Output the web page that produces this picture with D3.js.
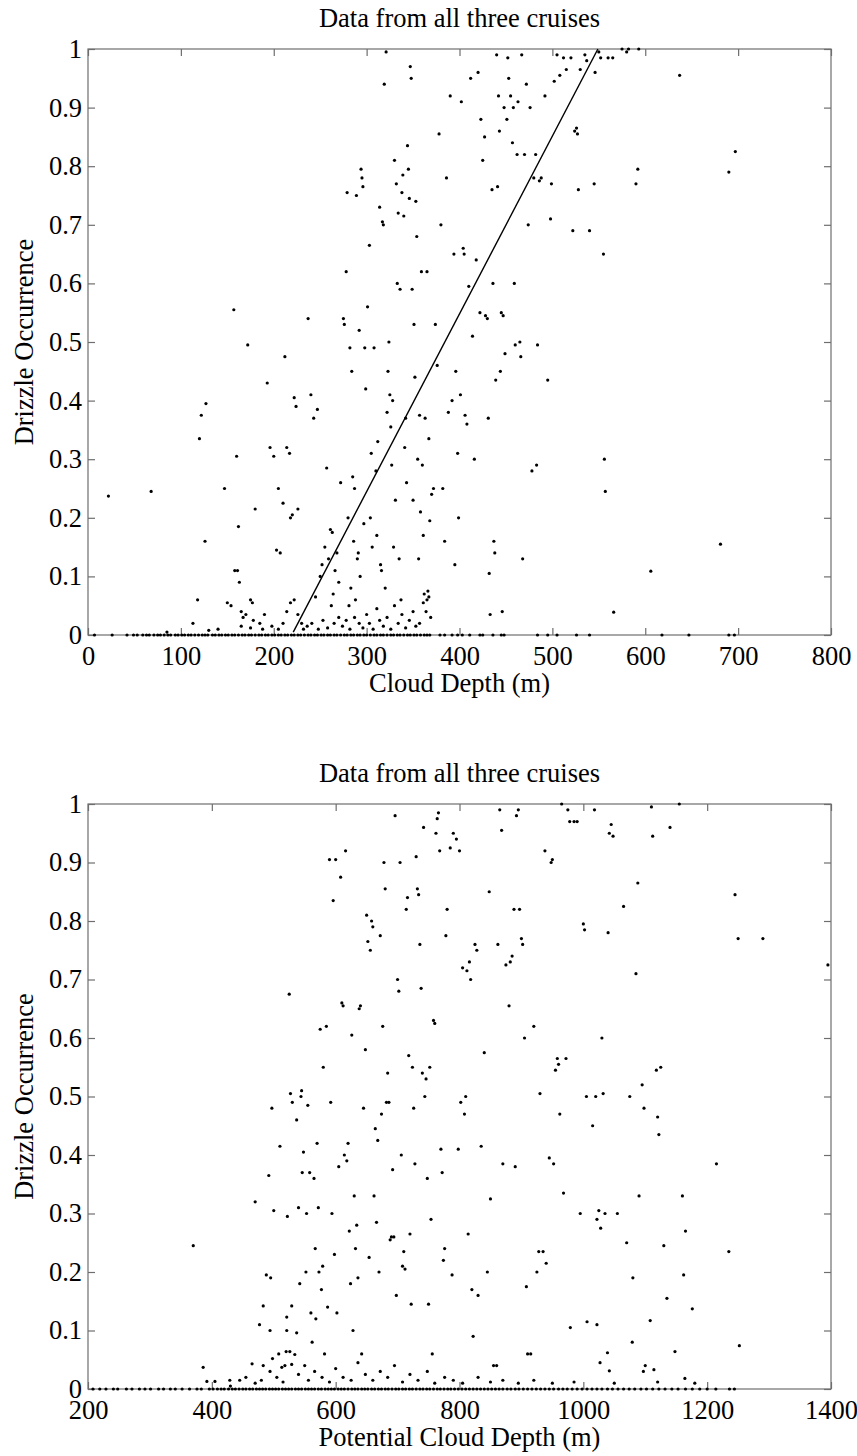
<!DOCTYPE html>
<html>
<head>
<meta charset="utf-8">
<script src="https://cdn.jsdelivr.net/npm/d3@7"></script>
<style>
  body { margin: 0; background: white; }
  svg text { font-family: "Liberation Serif", serif; font-size: 26.5px; fill: black; }
</style>
</head>
<body>
<svg id="chart" width="857" height="1456"></svg>
<script>

// ---- data: top panel (cloud depth vs drizzle occurrence) ----
var topPoints = [
  [22,0.237],[68,0.245],[113,0.02],[118,0.06],[120,0.335],[122,0.375],[127,0.395],[126,0.16],
  [147,0.25],[150,0.055],[154,0.05],[157,0.555],[160,0.305],[158,0.11],[161,0.11],[163,0.09],
  [162,0.185],[165,0.04],[167,0.03],[170,0.035],[172,0.495],[175,0.06],[177,0.055],[180,0.215],
  [178,0.025],[185,0.02],[190,0.035],[193,0.43],[196,0.32],
  [200,0.305],[203,0.145],[205,0.25],[207,0.14],[210,0.225],[212,0.475],[214,0.32],[217,0.31],
  [218,0.2],[220,0.205],[222,0.405],[224,0.39],[226,0.215],[214,0.04],[218,0.055],[222,0.06],
  [226,0.035],[230,0.02],[237,0.54],[240,0.41],[243,0.37],[247,0.385],[245,0.065],[250,0.1],
  [252,0.12],[255,0.15],[257,0.285],[259,0.13],[261,0.18],[263,0.175],[262,0.05],[264,0.07],
  [266,0.11],[268,0.14],[270,0.09],[272,0.26],[275,0.54],[276,0.53],[278,0.62],[279,0.755],
  [280,0.2],[282,0.49],[284,0.45],[285,0.27],[286,0.16],[287,0.25],[288,0.06],[289,0.75],
  [290,0.13],[292,0.52],[293,0.1],[294,0.795],[295,0.78],[296,0.765],[297,0.19],[298,0.49],
  [299,0.42],[291,0.14],[283,0.08],[281,0.05],
  [301,0.56],[303,0.665],[304,0.2],[305,0.31],[306,0.15],[308,0.49],[310,0.28],[311,0.17],
  [312,0.33],[314,0.73],[315,0.12],[316,0.11],[317,0.705],[318,0.7],[319,0.94],[320,0.08],
  [321,0.995],[322,0.38],[323,0.45],[324,0.5],[325,0.41],[326,0.355],[327,0.29],[328,0.4],
  [329,0.15],[330,0.81],[331,0.23],[332,0.77],[333,0.6],[334,0.72],[335,0.13],[336,0.59],
  [337,0.06],[338,0.755],[339,0.785],[340,0.715],[341,0.32],[342,0.37],[343,0.26],[344,0.835],
  [345,0.795],[346,0.745],[347,0.97],[348,0.95],[349,0.59],[350,0.23],[351,0.53],[352,0.44],
  [353,0.74],[354,0.68],[355,0.3],[356,0.13],[357,0.375],[358,0.21],[359,0.62],[360,0.29],
  [361,0.17],[362,0.07],[363,0.37],[364,0.04],[365,0.62],[366,0.075],[367,0.335],[368,0.195],
  [370,0.24],[372,0.25],[374,0.53],[376,0.46],[378,0.855],[380,0.7],[382,0.25],[384,0.16],
  [386,0.78],[388,0.38],[390,0.92],[392,0.4],[394,0.65],[395,0.12],[396,0.45],[398,0.31],[399,0.2],
  [401,0.41],[402,0.91],[404,0.66],[405,0.65],[406,0.375],[408,0.36],[410,0.595],[412,0.95],
  [414,0.51],[416,0.3],[418,0.64],[420,0.96],[422,0.55],[423,0.88],[425,0.81],[427,0.85],
  [428,0.545],[430,0.54],[431,0.37],[432,0.105],[433,0.035],[435,0.76],[436,0.6],[437,0.16],
  [438,0.14],[439,0.435],[440,0.99],[441,0.765],[442,0.92],[443,0.86],[444,0.45],[445,0.55],
  [446,0.04],[447,0.545],[448,0.9],[449,0.48],[451,0.88],[452,0.985],[453,0.95],[455,0.92],
  [457,0.84],[458,0.9],[459,0.6],[460,0.495],[462,0.82],[463,0.91],[465,0.5],[466,0.475],
  [467,0.99],[468,0.13],[470,0.82],[472,0.94],[474,0.7],[476,0.9],[478,0.28],[480,0.78],
  [482,0.82],[483,0.29],[484,0.495],[486,0.775],[488,0.78],[492,0.92],[495,0.435],[498,0.71],[499,0.77],
  [502,0.945],[505,0.99],[508,0.955],[512,0.985],[515,0.965],[520,0.985],[522,0.69],[524,0.86],
  [526,0.865],[527,0.855],[528,0.76],[530,0.965],[535,0.99],[537,0.98],[540,0.69],[545,0.77],
  [546,0.96],[550,0.995],[552,0.985],[555,0.65],[556,0.3],[557,0.245],[560,0.985],[565,0.985],
  [566,0.039],[575,1.0],[580,0.995],[582,1.0],[590,0.77],[592,0.795],[593,1.0],
  [606,0.109],[637,0.955],[681,0.155],[690,0.79],[697,0.825],
  // low values just above the zero line
  [85,0.005],[130,0.008],[140,0.01],[165,0.015],[175,0.012],[188,0.01],[198,0.015],[205,0.01],
  [210,0.02],[232,0.01],[236,0.015],[241,0.02],[248,0.01],[253,0.025],[258,0.012],[265,0.02],
  [270,0.03],[274,0.015],[278,0.025],[282,0.01],[287,0.03],[292,0.02],[296,0.012],[300,0.035],
  [303,0.02],[307,0.01],[311,0.045],[314,0.025],[318,0.015],[322,0.03],[326,0.01],[330,0.05],
  [334,0.02],[338,0.035],[342,0.012],[346,0.025],[350,0.04],[353,0.015],[357,0.02],[361,0.055],
  [365,0.06],[367,0.065],[369,0.03]
];
// points lying on the zero line
var topZeroX = [7,26,42,49,53,59,63,66,71,75,78,82,86,89,94,97,101,104,108,111,115,119,123,126,
  129,134,137,141,144,148,151,155,158,162,166,169,173,176,180,184,187,191,194,198,201,205,208,
  212,215,219,222,226,229,233,237,240,244,247,251,254,258,261,265,268,272,276,279,283,286,290,
  293,297,300,304,308,311,315,318,322,326,329,333,336,340,344,347,351,354,358,362,365,368,
  379,384,392,398,403,411,422,425,436,445,448,484,495,505,526,540,618,647,690,696];

// ---- data: bottom panel (potential cloud depth vs drizzle occurrence) ----
var botPoints = [
  [370,0.245],[386,0.037],[392,0.013],[405,0.013],[429,0.015],[445,0.015],[465,0.043],
  [470,0.32],[477,0.11],[483,0.142],[483,0.04],[488,0.195],[492,0.365],[494,0.1],[494,0.03],
  [495,0.19],[497,0.48],[498,0.052],[500,0.305],[508,0.06],[510,0.415],[513,0.037],[518,0.04],
  [520,0.064],[521,0.123],[521,0.1],[522,0.295],[525,0.675],[526,0.064],[527,0.505],[529,0.142],
  [529,0.042],[530,0.49],[534,0.059],[537,0.096],[537,0.46],[540,0.31],[542,0.18],[544,0.5],
  [545,0.51],[546,0.37],[548,0.405],[550,0.04],[552,0.2],[553,0.3],[555,0.485],[558,0.37],
  [560,0.13],[562,0.08],[565,0.36],[567,0.24],[568,0.12],[570,0.42],[572,0.31],[573,0.2],
  [575,0.615],[577,0.17],[579,0.21],[580,0.55],[582,0.06],[585,0.62],[587,0.14],[590,0.905],
  [592,0.49],[594,0.3],[596,0.835],[598,0.23],[600,0.905],[602,0.13],[605,0.38],[608,0.875],
  [610,0.66],[612,0.655],[614,0.4],[616,0.92],[618,0.39],[620,0.42],[622,0.27],[624,0.18],
  [626,0.605],[628,0.1],[630,0.33],[632,0.24],[634,0.28],[636,0.19],[638,0.65],[640,0.655],
  [642,0.06],[645,0.48],[648,0.58],[650,0.81],[652,0.765],[654,0.225],[656,0.75],[658,0.8],
  [660,0.79],[662,0.33],[664,0.445],[666,0.285],[668,0.425],[670,0.2],[672,0.775],[674,0.47],
  [676,0.62],[678,0.9],[680,0.855],[682,0.49],[684,0.54],[686,0.49],[688,0.255],[690,0.26],
  [692,0.375],[694,0.26],[696,0.98],[698,0.16],[700,0.7],[702,0.68],[704,0.9],[706,0.4],
  [708,0.21],[710,0.235],[712,0.205],[714,0.82],[716,0.84],[718,0.57],[720,0.265],[722,0.145],
  [724,0.55],[726,0.48],[728,0.385],[730,0.91],[732,0.855],[734,0.845],[736,0.76],[738,0.685],
  [740,0.54],[742,0.96],[744,0.5],[746,0.53],[748,0.36],[750,0.145],[752,0.55],[754,0.29],
  [756,0.06],[758,0.63],[760,0.625],[762,0.95],[764,0.975],[766,0.985],[768,0.92],[770,0.41],
  [772,0.37],[774,0.22],[776,0.24],[778,0.775],[780,0.82],[785,0.925],[788,0.195],[790,0.95],
  [795,0.94],[798,0.41],[800,0.92],[802,0.49],[805,0.72],[808,0.47],[810,0.5],[812,0.715],
  [814,0.265],[816,0.73],[818,0.7],[820,0.17],[822,0.09],[825,0.76],[828,0.75],[830,0.16],
  [835,0.415],[840,0.575],[845,0.2],[848,0.85],[850,0.325],[855,0.04],[860,0.04],[862,0.76],
  [865,0.99],[868,0.955],[870,0.385],[875,0.725],[880,0.655],[882,0.73],[885,0.74],[888,0.82],
  [890,0.38],[892,0.98],[895,0.99],[897,0.82],[900,0.77],[902,0.76],[905,0.6],[908,0.175],
  [910,0.06],[915,0.06],[920,0.62],[925,0.2],[928,0.235],[930,0.505],[935,0.235],[938,0.92],
  [940,0.215],[945,0.395],[948,0.9],[950,0.905],[952,0.385],[955,0.545],[958,0.565],[960,0.555],
  [962,0.47],[965,1.0],[968,0.335],[972,0.565],[975,0.99],[978,0.97],[979,0.105],[985,0.97],
  [990,0.97],[995,0.3],[1000,0.795],[1002,0.785],[1005,0.5],[1006,0.115],[1015,0.45],[1018,0.99],
  [1020,0.5],[1022,0.29],[1022,0.11],[1025,0.305],[1027,0.045],[1028,0.275],[1030,0.6],[1032,0.505],
  [1035,0.3],[1039,0.062],[1040,0.78],[1042,0.031],[1042,0.95],[1045,0.965],[1048,0.945],
  [1055,0.3],[1065,0.825],[1070,0.25],[1075,0.5],[1079,0.08],[1080,0.19],[1085,0.71],[1088,0.865],
  [1090,0.33],[1095,0.52],[1097,0.03],[1098,0.48],[1100,0.04],[1108,0.117],[1110,0.995],
  [1112,0.945],[1114,0.033],[1118,0.545],[1120,0.465],[1122,0.435],[1125,0.55],[1130,0.245],
  [1135,0.155],[1140,0.96],[1148,0.064],[1155,1.0],[1160,0.33],[1162,0.195],[1164,0.018],
  [1165,0.27],[1176,0.137],[1215,0.385],[1235,0.235],[1245,0.845],[1250,0.77],[1252,0.074],
  [1290,0.77],[1395,0.725],
  // low values just above the zero line
  [430,0.005],[455,0.02],[470,0.01],[480,0.015],[505,0.02],[515,0.012],[540,0.025],[556,0.015],
  [566,0.03],[578,0.02],[590,0.012],[600,0.035],[612,0.02],[625,0.015],[636,0.045],[648,0.025],
  [660,0.015],[672,0.03],[684,0.02],[695,0.04],[708,0.012],[720,0.025],[733,0.015],[748,0.03],
  [760,0.01],[776,0.02],[790,0.015],[805,0.01],[830,0.02],[850,0.012],[870,0.015],[895,0.01],
  [920,0.015],[950,0.01],[985,0.012],[1050,0.01],[1120,0.012],[1180,0.01]
];
var botZeroX = [208,219,229,241,248,262,271,283,292,301,314,322,333,341,352,364,376,383,396,
  402,409,415,420,427,433,438,444,450,455,461,466,472,477,482,487,493,498,503,508,514,519,524,
  529,535,540,545,551,556,561,566,572,577,583,588,593,598,604,609,614,620,626,631,636,642,647,
  652,658,663,669,674,680,685,691,697,702,708,713,719,724,730,736,741,747,752,758,764,769,775,
  781,786,792,798,804,810,816,822,828,834,840,846,852,858,864,870,877,883,890,896,903,910,917,
  924,931,938,945,952,960,967,974,982,990,998,1006,1014,1022,1030,1039,1047,1056,1065,1074,
  1083,1093,1102,1112,1122,1132,1143,1153,1165,1176,1188,1200,1214,1236,1244];

// fitted line on the top panel (end points)
var fitX = [221, 549];
var fitY = [0.005, 1];

var yTicks = [0, 0.1, 0.2, 0.3, 0.4, 0.5, 0.6, 0.7, 0.8, 0.9, 1];
var topXTicks = [0, 100, 200, 300, 400, 500, 600, 700, 800];
var botXTicks = [200, 400, 600, 800, 1000, 1200, 1400];

var axis_color = '#6e6e6e';
var font_family = '"Liberation Serif", serif';
var font_size = '26.5px';

var svg = d3.select('#chart');

function draw_panel(p){

  var x = d3.scaleLinear().domain(p.xdomain).range([p.left, p.right]);
  var y = d3.scaleLinear().domain([0, 1]).range([p.bottom, p.top]);

  var g = svg.append('g').classed('panel', true);

  // title
  g.append('text')
    .attr('x', (p.left + p.right) / 2)
    .attr('y', p.top - 22)
    .style('font-family', font_family)
    .style('font-size', font_size)
    .style('text-anchor', 'middle')
    .text(p.title);

  // ticks, all four sides pointing inwards
  var ax_bottom = g.append('g')
    .attr('transform', 'translate(0,' + p.bottom + ')')
    .call(d3.axisBottom(x).tickValues(p.xticks).tickSizeInner(-7).tickSizeOuter(0).tickPadding(11)
      .tickFormat(d3.format('d')));
  var ax_top = g.append('g')
    .attr('transform', 'translate(0,' + p.top + ')')
    .call(d3.axisTop(x).tickValues(p.xticks).tickSizeInner(-7).tickSizeOuter(0).tickFormat(''));
  var ax_left = g.append('g')
    .attr('transform', 'translate(' + p.left + ',0)')
    .call(d3.axisLeft(y).tickValues(yTicks).tickSizeInner(-7).tickSizeOuter(0).tickPadding(6)
      .tickFormat(d3.format('~g')));
  var ax_right = g.append('g')
    .attr('transform', 'translate(' + p.right + ',0)')
    .call(d3.axisRight(y).tickValues(yTicks).tickSizeInner(-7).tickSizeOuter(0).tickFormat(''));

  [ax_bottom, ax_top, ax_left, ax_right].forEach(function(a){
    a.attr('font-family', null).attr('font-size', null);
    a.select('.domain').remove();
    a.selectAll('line').attr('stroke', axis_color).attr('stroke-width', 1.2);
    a.selectAll('text')
      .style('font-family', font_family)
      .style('font-size', font_size)
      .attr('fill', 'black');
  });

  // box
  g.append('rect')
    .attr('x', p.left)
    .attr('y', p.top)
    .attr('width', p.right - p.left)
    .attr('height', p.bottom - p.top)
    .attr('fill', 'none')
    .attr('stroke', axis_color)
    .attr('stroke-width', 1.2);

  // axis labels
  g.append('text')
    .attr('x', (p.left + p.right) / 2)
    .attr('y', p.bottom + 57)
    .style('font-family', font_family)
    .style('font-size', font_size)
    .style('text-anchor', 'middle')
    .text(p.xlabel);

  g.append('text')
    .attr('transform', 'translate(33,' + (p.top + p.bottom) / 2 + ') rotate(-90)')
    .style('font-family', font_family)
    .style('font-size', font_size)
    .style('text-anchor', 'middle')
    .text('Drizzle Occurrence');

  // dots
  var pts = p.points.concat(p.zeros.map(function(v){ return [v, 0]; }));
  g.append('g')
    .selectAll('circle')
    .data(pts)
    .enter()
    .append('circle')
    .attr('cx', function(d){ return x(d[0]); })
    .attr('cy', function(d){ return y(d[1]); })
    .attr('r', 1.6)
    .attr('fill', 'black');

  if (p.fit){
    g.append('line')
      .attr('x1', x(p.fit[0][0]))
      .attr('y1', y(p.fit[1][0]))
      .attr('x2', x(p.fit[0][1]))
      .attr('y2', y(p.fit[1][1]))
      .attr('stroke', 'black')
      .attr('stroke-width', 1.4);
  }
}

draw_panel({
  title: 'Data from all three cruises',
  xlabel: 'Cloud Depth (m)',
  xdomain: [0, 800],
  xticks: topXTicks,
  left: 88, right: 831, top: 49, bottom: 635,
  points: topPoints,
  zeros: topZeroX,
  fit: [fitX, fitY]
});

draw_panel({
  title: 'Data from all three cruises',
  xlabel: 'Potential Cloud Depth (m)',
  xdomain: [200, 1400],
  xticks: botXTicks,
  left: 88, right: 831, top: 804, bottom: 1389,
  points: botPoints,
  zeros: botZeroX,
  fit: null
});

</script>
</body>
</html>
